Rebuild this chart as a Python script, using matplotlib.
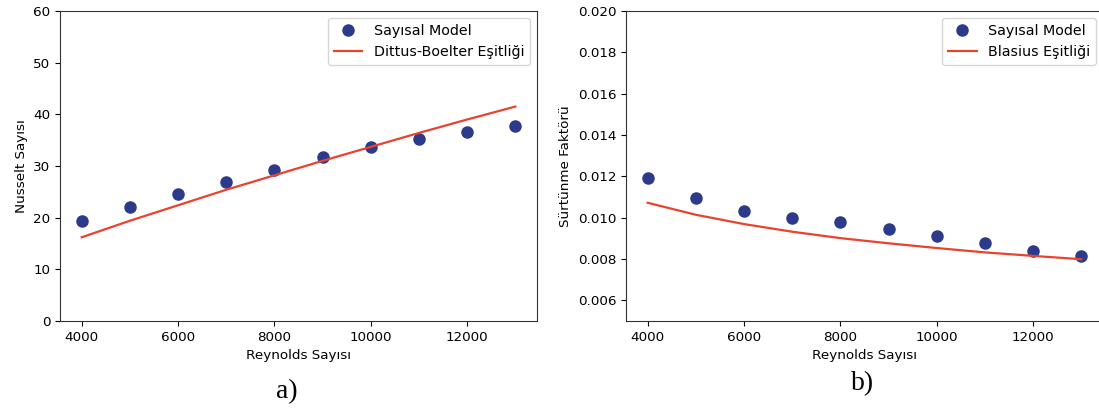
import matplotlib.pyplot as plt

# Reynolds numbers (shared x axis)
reynolds = [4000, 5000, 6000, 7000, 8000, 9000, 10000, 11000, 12000, 13000]

# a) Nusselt number
nusselt_model = [19.3, 22.1, 24.5, 27.0, 29.2, 31.7, 33.6, 35.3, 36.6, 37.7]
nusselt_dittus = [16.2, 19.4, 22.4, 25.4, 28.2, 31.0, 33.7, 36.4, 39.0, 41.5]

# b) friction factor
friction_model = [0.01193, 0.01095, 0.01033, 0.01000, 0.00978,
                  0.00944, 0.00909, 0.00875, 0.00841, 0.00813]
friction_blasius = [0.01072, 0.01014, 0.00969, 0.00932, 0.00901,
                    0.00876, 0.00853, 0.00832, 0.00815, 0.00799]

dot_color = '#2d3a8c'
line_color = '#e8432e'
fs = 9.7
leg_fs = 10.3

fig = plt.figure(figsize=(10.99, 4.11), dpi=100)
W, H = 1099, 411

def make_axes(left, right):
    return fig.add_axes([left / W, (H - 321) / H, (right - left) / W, 310 / H])

ax1 = make_axes(60, 537)
ax1.plot(reynolds, nusselt_model, 'o', color=dot_color, markersize=8, label='Sayısal Model')
ax1.plot(reynolds, nusselt_dittus, '-', color=line_color, linewidth=1.6, label='Dittus-Boelter Eşitliği')
ax1.set_ylim(0, 60)
ax1.set_xticks([4000, 6000, 8000, 10000, 12000])
ax1.set_xlabel('Reynolds Sayısı', fontsize=fs)
ax1.set_ylabel('Nusselt Sayısı', fontsize=fs)
ax1.tick_params(labelsize=fs)
ax1.legend(loc='upper right', fontsize=leg_fs)

ax2 = make_axes(626, 1103)
ax2.plot(reynolds, friction_model, 'o', color=dot_color, markersize=8, label='Sayısal Model')
ax2.plot(reynolds, friction_blasius, '-', color=line_color, linewidth=1.6, label='Blasius Eşitliği')
ax2.set_ylim(0.005, 0.020)
ax2.set_yticks([0.006, 0.008, 0.010, 0.012, 0.014, 0.016, 0.018, 0.020])
ax2.set_xticks([4000, 6000, 8000, 10000, 12000])
ax2.set_xlabel('Reynolds Sayısı', fontsize=fs)
ax2.set_ylabel('Sürtünme Faktörü', fontsize=fs)
ax2.tick_params(labelsize=fs)
ax2.legend(loc='upper right', fontsize=leg_fs)

for ax in (ax1, ax2):
    for s in ax.spines.values():
        s.set_color('#333333')

fig.text(287 / W, 1 - 392 / H, 'a)', family='Liberation Serif', fontsize=20,
         ha='center', va='center')
fig.text(863 / W, 1 - 384 / H, 'b)', family='Liberation Serif', fontsize=20,
         ha='center', va='center')

fig.savefig('out.png', dpi=100)
